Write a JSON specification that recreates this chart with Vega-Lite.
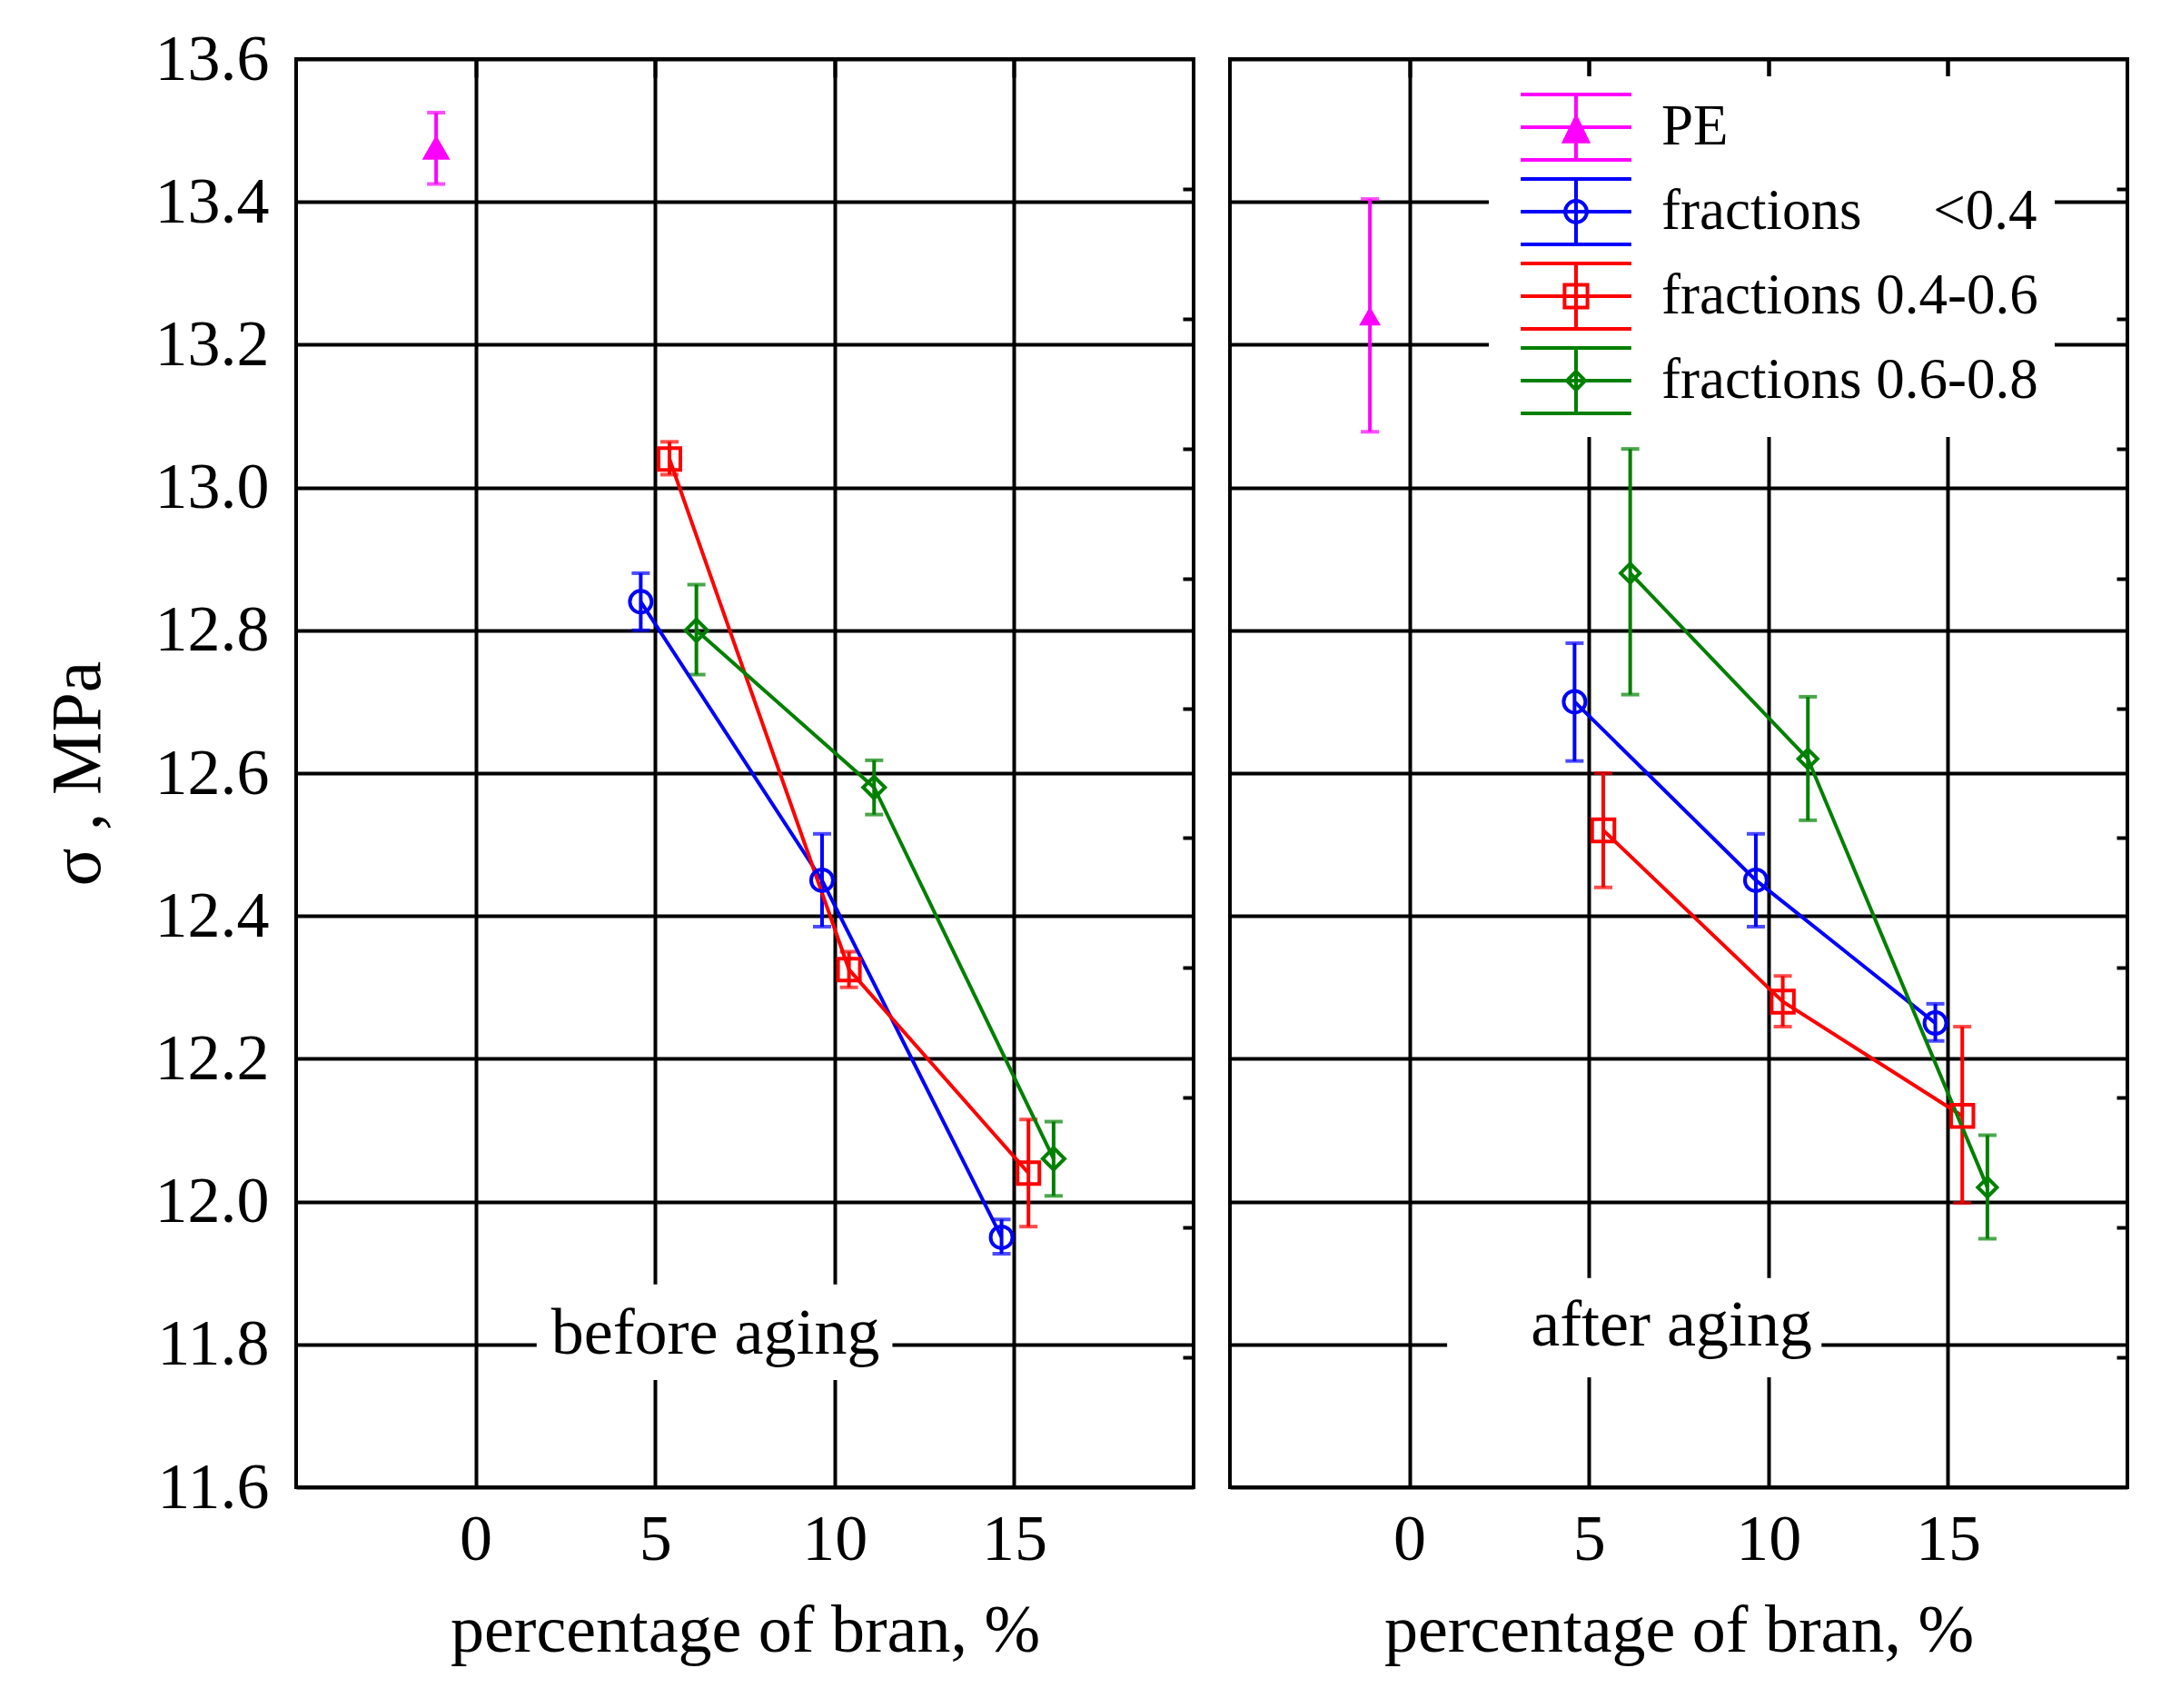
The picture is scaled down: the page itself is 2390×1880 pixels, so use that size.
{
  "$schema": "https://vega.github.io/schema/vega-lite/v6.json",
  "background": "white",
  "padding": {"left": 45, "top": 27, "right": 0, "bottom": 0},
  "spacing": 34,
  "datasets": {
    "pts": [
      {"panel": "before", "series": "PE", "x": -1.1, "y": 13.475, "lo": 13.425, "hi": 13.525},
      {"panel": "before", "series": "<0.4", "x": 4.6, "y": 12.84, "lo": 12.8, "hi": 12.88},
      {"panel": "before", "series": "<0.4", "x": 9.65, "y": 12.45, "lo": 12.385, "hi": 12.515},
      {"panel": "before", "series": "<0.4", "x": 14.65, "y": 11.95, "lo": 11.927, "hi": 11.975},
      {"panel": "before", "series": "0.4-0.6", "x": 5.4, "y": 13.04, "lo": 13.018, "hi": 13.064},
      {"panel": "before", "series": "0.4-0.6", "x": 10.4, "y": 12.325, "lo": 12.3, "hi": 12.35},
      {"panel": "before", "series": "0.4-0.6", "x": 15.4, "y": 12.04, "lo": 11.965, "hi": 12.115},
      {"panel": "before", "series": "0.6-0.8", "x": 6.15, "y": 12.8, "lo": 12.738, "hi": 12.864},
      {"panel": "before", "series": "0.6-0.8", "x": 11.1, "y": 12.58, "lo": 12.542, "hi": 12.618},
      {"panel": "before", "series": "0.6-0.8", "x": 16.1, "y": 12.06, "lo": 12.008, "hi": 12.112},
      {"panel": "after", "series": "PE", "x": -1.1, "y": 13.24, "lo": 13.078, "hi": 13.404},
      {"panel": "after", "series": "<0.4", "x": 4.6, "y": 12.7, "lo": 12.617, "hi": 12.782},
      {"panel": "after", "series": "<0.4", "x": 9.65, "y": 12.45, "lo": 12.385, "hi": 12.515},
      {"panel": "after", "series": "<0.4", "x": 14.65, "y": 12.25, "lo": 12.225, "hi": 12.277},
      {"panel": "after", "series": "0.4-0.6", "x": 5.4, "y": 12.52, "lo": 12.44, "hi": 12.6},
      {"panel": "after", "series": "0.4-0.6", "x": 10.4, "y": 12.28, "lo": 12.245, "hi": 12.316},
      {"panel": "after", "series": "0.4-0.6", "x": 15.4, "y": 12.12, "lo": 11.998, "hi": 12.245},
      {"panel": "after", "series": "0.6-0.8", "x": 6.15, "y": 12.88, "lo": 12.71, "hi": 13.054},
      {"panel": "after", "series": "0.6-0.8", "x": 11.1, "y": 12.62, "lo": 12.534, "hi": 12.707},
      {"panel": "after", "series": "0.6-0.8", "x": 16.1, "y": 12.02, "lo": 11.948, "hi": 12.093}
    ],
    "notes": [
      {"panel": "before", "label": "before aging", "x": 6.68, "y": 11.787, "bx1": 1.7, "bx2": 11.61, "by1": 11.75, "by2": 11.884},
      {"panel": "after", "label": "after aging", "x": 7.3, "y": 11.798, "bx1": 1.05, "bx2": 11.48, "by1": 11.754, "by2": 11.893}
    ]
  },
  "config": {
    "view": {"stroke": "black", "strokeWidth": 4},
    "font": "Liberation Serif",
    "axis": {
      "gridColor": "black", "gridOpacity": 1, "gridWidth": 4,
      "domain": false, "ticks": false,
      "tickColor": "black", "tickWidth": 4,
      "labelFont": "Liberation Serif", "labelFontSize": 72, "labelColor": "black",
      "titleFont": "Liberation Serif", "titleFontSize": 74, "titleFontWeight": "normal", "titleColor": "black"
    }
  },
  "resolve": {
    "scale": {"color": "independent", "shape": "independent", "size": "independent", "fill": "independent", "stroke": "independent"},
    "legend": {"color": "independent", "shape": "independent", "size": "independent", "fill": "independent", "stroke": "independent"}
  },
  "hconcat": [
    {
      "width": 988,
      "height": 1572,
      "resolve": {"axis": {"x": "independent", "y": "independent"}},
      "layer": [
        {
          "data": {"name": "notes"},
          "transform": [{"filter": "datum.panel == 'before'"}],
          "mark": {"type": "rect", "color": "white"},
          "encoding": {
            "x": {"field": "bx1", "type": "quantitative", "scale": {"domain": [-5, 20], "nice": false, "zero": false},
              "axis": {"orient": "bottom", "values": [0, 5, 10, 15], "grid": true, "labelPadding": 22, "title": "percentage of bran, %", "titlePadding": 29}},
            "x2": {"field": "bx2"},
            "y": {"field": "by1", "type": "quantitative", "scale": {"domain": [11.6, 13.6], "nice": false, "zero": false},
              "axis": {"orient": "left", "values": [11.6, 11.8, 12.0, 12.2, 12.4, 12.6, 12.8, 13.0, 13.2, 13.4, 13.6], "format": ".1f", "grid": true, "labelPadding": 30, "title": "σ , MPa", "titleFontSize": 78, "titlePadding": 45}},
            "y2": {"field": "by2"}
          }
        },
        {
          "data": {"name": "pts"},
          "transform": [{"filter": "datum.panel == 'before'"}],
          "mark": {"type": "rule", "strokeWidth": 4},
          "encoding": {
            "x": {"field": "x", "type": "quantitative",
              "axis": {"orient": "top", "values": [0, 5, 10, 15], "grid": false, "labels": false, "ticks": true, "tickSize": -20, "title": null}},
            "y": {"field": "lo", "type": "quantitative",
              "axis": {"orient": "right", "values": [13.41818, 13.23636, 13.05455, 12.87273, 12.69091, 12.50909, 12.32727, 12.14545, 11.96364, 11.78182], "grid": false, "labels": false, "ticks": true, "tickSize": -12, "title": null}},
            "y2": {"field": "hi"},
            "color": {"field": "series", "type": "nominal", "scale": {"domain": ["PE", "<0.4", "0.4-0.6", "0.6-0.8"], "range": ["#ff00ff", "#0000ff", "#ff0000", "#008000"]}, "legend": null}
          }
        },
        {
          "data": {"name": "pts"},
          "transform": [{"filter": "datum.panel == 'before'"}],
          "mark": {"type": "tick", "orient": "horizontal", "size": 20, "thickness": 4},
          "encoding": {
            "x": {"field": "x", "type": "quantitative", "axis": null},
            "y": {"field": "lo", "type": "quantitative", "axis": null},
            "color": {"field": "series", "type": "nominal", "legend": null}
          }
        },
        {
          "data": {"name": "pts"},
          "transform": [{"filter": "datum.panel == 'before'"}],
          "mark": {"type": "tick", "orient": "horizontal", "size": 20, "thickness": 4},
          "encoding": {
            "x": {"field": "x", "type": "quantitative", "axis": null},
            "y": {"field": "hi", "type": "quantitative", "axis": null},
            "color": {"field": "series", "type": "nominal", "legend": null}
          }
        },
        {
          "data": {"name": "pts"},
          "transform": [{"filter": "datum.panel == 'before'"}],
          "mark": {"type": "line", "strokeWidth": 4},
          "encoding": {
            "x": {"field": "x", "type": "quantitative", "axis": null},
            "y": {"field": "y", "type": "quantitative", "axis": null},
            "color": {"field": "series", "type": "nominal", "legend": null}
          }
        },
        {
          "data": {"name": "pts"},
          "transform": [{"filter": "datum.panel == 'before'"}],
          "mark": {"type": "point", "filled": false, "strokeWidth": 4, "opacity": 1},
          "encoding": {
            "x": {"field": "x", "type": "quantitative", "axis": null},
            "y": {"field": "y", "type": "quantitative", "axis": null},
            "color": {"field": "series", "type": "nominal", "legend": null},
            "shape": {"field": "series", "type": "nominal", "scale": {"domain": ["PE", "<0.4", "0.4-0.6", "0.6-0.8"], "range": ["triangle-up", "circle", "square", "diamond"]}, "legend": null},
            "size": {"field": "series", "type": "nominal", "scale": {"domain": ["PE", "<0.4", "0.4-0.6", "0.6-0.8"], "range": [576, 576, 600, 441]}, "legend": null},
            "fill": {"condition": {"test": "datum.series == 'PE'", "value": "#ff00ff"}, "value": "transparent"}
          }
        },
        {
          "data": {"name": "notes"},
          "transform": [{"filter": "datum.panel == 'before'"}],
          "mark": {"type": "text", "font": "Liberation Serif", "fontSize": 72, "align": "center", "baseline": "alphabetic", "color": "black"},
          "encoding": {
            "x": {"field": "x", "type": "quantitative", "axis": null},
            "y": {"field": "y", "type": "quantitative", "axis": null},
            "text": {"field": "label"}
          }
        }
      ]
    },
    {
      "width": 988,
      "height": 1572,
      "resolve": {"axis": {"x": "independent", "y": "independent"}},
      "layer": [
        {
          "data": {"name": "notes"},
          "transform": [{"filter": "datum.panel == 'after'"}],
          "mark": {"type": "rect", "color": "white"},
          "encoding": {
            "x": {"field": "bx1", "type": "quantitative", "scale": {"domain": [-5, 20], "nice": false, "zero": false},
              "axis": {"orient": "bottom", "values": [0, 5, 10, 15], "grid": true, "labelPadding": 22, "title": "percentage of bran, %", "titlePadding": 29}},
            "x2": {"field": "bx2"},
            "y": {"field": "by1", "type": "quantitative", "scale": {"domain": [11.6, 13.6], "nice": false, "zero": false},
              "axis": {"orient": "left", "values": [11.6, 11.8, 12.0, 12.2, 12.4, 12.6, 12.8, 13.0, 13.2, 13.4, 13.6], "grid": true, "labels": false, "title": null}},
            "y2": {"field": "by2"}
          }
        },
        {
          "data": {"name": "pts"},
          "transform": [{"filter": "datum.panel == 'after'"}],
          "mark": {"type": "rule", "strokeWidth": 4},
          "encoding": {
            "x": {"field": "x", "type": "quantitative",
              "axis": {"orient": "top", "values": [0, 5, 10, 15], "grid": false, "labels": false, "ticks": true, "tickSize": -20, "title": null}},
            "y": {"field": "lo", "type": "quantitative",
              "axis": {"orient": "right", "values": [13.41818, 13.23636, 13.05455, 12.87273, 12.69091, 12.50909, 12.32727, 12.14545, 11.96364, 11.78182], "grid": false, "labels": false, "ticks": true, "tickSize": -12, "title": null}},
            "y2": {"field": "hi"},
            "color": {"field": "series", "type": "nominal", "scale": {"domain": ["<0.4", "0.4-0.6", "0.6-0.8", "PE"], "range": ["#0000ff", "#ff0000", "#008000", "#ff00ff"]}, "legend": null}
          }
        },
        {
          "data": {"name": "pts"},
          "transform": [{"filter": "datum.panel == 'after'"}],
          "mark": {"type": "tick", "orient": "horizontal", "size": 20, "thickness": 4},
          "encoding": {
            "x": {"field": "x", "type": "quantitative", "axis": null},
            "y": {"field": "lo", "type": "quantitative", "axis": null},
            "color": {"field": "series", "type": "nominal", "legend": null}
          }
        },
        {
          "data": {"name": "pts"},
          "transform": [{"filter": "datum.panel == 'after'"}],
          "mark": {"type": "tick", "orient": "horizontal", "size": 20, "thickness": 4},
          "encoding": {
            "x": {"field": "x", "type": "quantitative", "axis": null},
            "y": {"field": "hi", "type": "quantitative", "axis": null},
            "color": {"field": "series", "type": "nominal", "legend": null}
          }
        },
        {
          "data": {"name": "pts"},
          "transform": [{"filter": "datum.panel == 'after'"}],
          "mark": {"type": "line", "strokeWidth": 4},
          "encoding": {
            "x": {"field": "x", "type": "quantitative", "axis": null},
            "y": {"field": "y", "type": "quantitative", "axis": null},
            "color": {"field": "series", "type": "nominal", "legend": null}
          }
        },
        {
          "data": {"name": "pts"},
          "transform": [{"filter": "datum.panel == 'after' && datum.series == 'PE'"}],
          "mark": {"type": "point", "shape": "triangle-up", "size": 576, "filled": true, "color": "#ff00ff", "opacity": 1},
          "encoding": {
            "x": {"field": "x", "type": "quantitative", "axis": null},
            "y": {"field": "y", "type": "quantitative", "axis": null}
          }
        },
        {
          "data": {"name": "pts"},
          "transform": [{"filter": "datum.panel == 'after' && datum.series == '<0.4'"}],
          "mark": {"type": "point", "shape": "circle", "size": 576, "filled": false, "strokeWidth": 4, "color": "#0000ff", "opacity": 1},
          "encoding": {
            "x": {"field": "x", "type": "quantitative", "axis": null},
            "y": {"field": "y", "type": "quantitative", "axis": null}
          }
        },
        {
          "data": {"name": "pts"},
          "transform": [{"filter": "datum.panel == 'after' && datum.series == '0.4-0.6'"}],
          "mark": {"type": "point", "shape": "square", "size": 600, "filled": false, "strokeWidth": 4, "color": "#ff0000", "opacity": 1},
          "encoding": {
            "x": {"field": "x", "type": "quantitative", "axis": null},
            "y": {"field": "y", "type": "quantitative", "axis": null}
          }
        },
        {
          "data": {"name": "pts"},
          "transform": [{"filter": "datum.panel == 'after' && datum.series == '0.6-0.8'"}],
          "mark": {"type": "point", "shape": "diamond", "size": 441, "filled": false, "strokeWidth": 4, "color": "#008000", "opacity": 1},
          "encoding": {
            "x": {"field": "x", "type": "quantitative", "axis": null},
            "y": {"field": "y", "type": "quantitative", "axis": null}
          }
        },
        {
          "data": {"name": "notes"},
          "transform": [{"filter": "datum.panel == 'after'"}],
          "mark": {"type": "text", "font": "Liberation Serif", "fontSize": 72, "align": "center", "baseline": "alphabetic", "color": "black"},
          "encoding": {
            "x": {"field": "x", "type": "quantitative", "axis": null},
            "y": {"field": "y", "type": "quantitative", "axis": null},
            "text": {"field": "label"}
          }
        },
        {
          "data": {"name": "pts"},
          "transform": [{"filter": "datum.panel == 'after'"}],
          "mark": {"type": "point", "filled": false, "opacity": 0, "strokeWidth": 4},
          "encoding": {
            "x": {"field": "x", "type": "quantitative", "axis": null},
            "y": {"field": "y", "type": "quantitative", "axis": null},
            "stroke": {"field": "series", "type": "nominal",
              "scale": {"domain": ["PE", "<0.4", "0.4-0.6", "0.6-0.8"], "range": ["#ff00ff", "#0000ff", "#ff0000", "#008000"]},
              "legend": {
                "orient": "none", "legendX": 285, "legendY": 19, "title": null,
                "fillColor": "white", "padding": 18,
                "labelFont": "Liberation Serif", "labelFontSize": 63, "labelColor": "black", "labelLimit": 0,
                "labelOffset": 56, "symbolOffset": 40, "symbolSize": 5184, "symbolStrokeWidth": 4, "symbolOpacity": 1,
                "rowPadding": 5,
                "labelExpr": "datum.value == 'PE' ? 'PE' : datum.value == '<0.4' ? 'fractions\u00a0\u00a0\u00a0\u00a0\u00a0<0.4' : 'fractions ' + datum.value"
              }},
            "shape": {"field": "series", "type": "nominal",
              "scale": {"domain": ["PE", "<0.4", "0.4-0.6", "0.6-0.8"], "range": [
                "M-1.69,-1H1.69M-1.69,0H1.69M-1.69,1H1.69M0,-1V1M0,-0.3L0.36,0.44L-0.36,0.44Z",
                "M-1.69,-1H1.69M-1.69,0H1.69M-1.69,1H1.69M0,-1V1M0.33,0A0.33,0.33 0 1,1 -0.33,0A0.33,0.33 0 1,1 0.33,0Z",
                "M-1.69,-1H1.69M-1.69,0H1.69M-1.69,1H1.69M0,-1V1M-0.35,-0.35H0.35V0.35H-0.35Z",
                "M-1.69,-1H1.69M-1.69,0H1.69M-1.69,1H1.69M0,-1V1M0,-0.28L0.28,0L0,0.28L-0.28,0Z"
              ]},
              "legend": {
                "orient": "none", "legendX": 285, "legendY": 19, "title": null,
                "fillColor": "white", "padding": 18,
                "labelFont": "Liberation Serif", "labelFontSize": 63, "labelColor": "black", "labelLimit": 0,
                "labelOffset": 56, "symbolOffset": 40, "symbolSize": 5184, "symbolStrokeWidth": 4, "symbolOpacity": 1,
                "rowPadding": 5,
                "labelExpr": "datum.value == 'PE' ? 'PE' : datum.value == '<0.4' ? 'fractions\u00a0\u00a0\u00a0\u00a0\u00a0<0.4' : 'fractions ' + datum.value"
              }},
            "fill": {"field": "series", "type": "nominal",
              "scale": {"domain": ["PE", "<0.4", "0.4-0.6", "0.6-0.8"], "range": ["#ff00ff", "transparent", "transparent", "transparent"]},
              "legend": {
                "orient": "none", "legendX": 285, "legendY": 19, "title": null,
                "fillColor": "white", "padding": 18,
                "labelFont": "Liberation Serif", "labelFontSize": 63, "labelColor": "black", "labelLimit": 0,
                "labelOffset": 56, "symbolOffset": 40, "symbolSize": 5184, "symbolStrokeWidth": 4, "symbolOpacity": 1,
                "rowPadding": 5,
                "labelExpr": "datum.value == 'PE' ? 'PE' : datum.value == '<0.4' ? 'fractions\u00a0\u00a0\u00a0\u00a0\u00a0<0.4' : 'fractions ' + datum.value"
              }}
          }
        }
      ]
    }
  ]
}
